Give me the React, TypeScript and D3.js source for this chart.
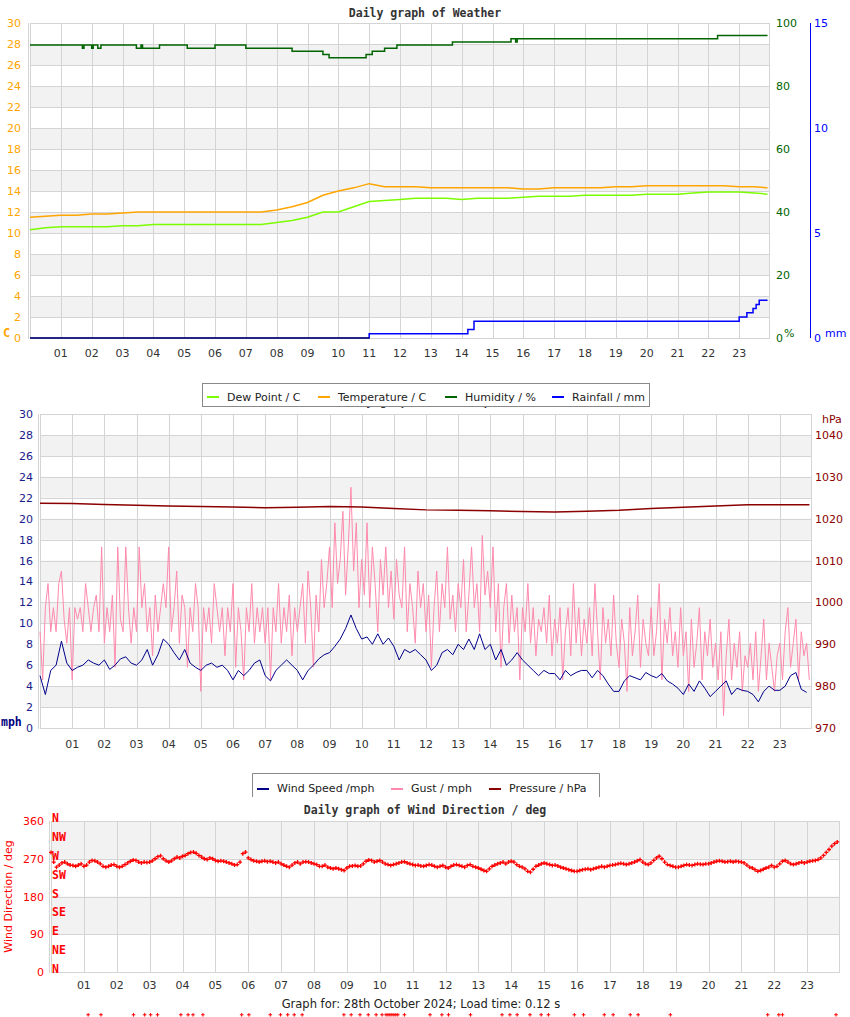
import React from 'react';
import * as d3 from 'd3';

// ---- data ----
const hourTicks = [1, 2, 3, 4, 5, 6, 7, 8, 9, 10, 11, 12, 13, 14, 15, 16, 17, 18, 19, 20, 21, 22, 23];
const hourLabels = ["01", "02", "03", "04", "05", "06", "07", "08", "09", "10", "11", "12",
  "13", "14", "15", "16", "17", "18", "19", "20", "21", "22", "23"];
const LAST_HOUR = 23.92;

// half-hourly temperature / dew point (C), last value at LAST_HOUR
const temperature = [11.5, 11.6, 11.7, 11.7, 11.8, 11.8, 11.9, 12.0, 12.0, 12.0, 12.0, 12.0, 12.0, 12.0, 12.0, 12.0,
  12.2, 12.5, 12.9, 13.6, 14.0, 14.3, 14.7, 14.4, 14.4, 14.4, 14.3, 14.3, 14.3, 14.3, 14.3, 14.3,
  14.2, 14.2, 14.3, 14.3, 14.3, 14.3, 14.4, 14.4, 14.5, 14.5, 14.5, 14.5, 14.5, 14.5, 14.4, 14.4, 14.3];
const dewPoint = [10.3, 10.5, 10.6, 10.6, 10.6, 10.6, 10.7, 10.7, 10.8, 10.8, 10.8, 10.8, 10.8, 10.8, 10.8, 10.8,
  11.0, 11.2, 11.5, 12.0, 12.0, 12.5, 13.0, 13.1, 13.2, 13.3, 13.3, 13.3, 13.2, 13.3, 13.3, 13.3,
  13.4, 13.5, 13.5, 13.5, 13.6, 13.6, 13.6, 13.6, 13.7, 13.7, 13.7, 13.8, 13.9, 13.9, 13.9, 13.8, 13.7];

// humidity (%) change points [hour, value]
const humidity: [number, number][] = [
  [0, 93], [1.7, 92], [1.75, 93], [2.0, 92], [2.05, 93], [2.2, 92], [2.3, 93], [3.45, 92], [3.6, 93], [3.65, 92],
  [4.2, 93], [5.1, 92], [6.0, 93], [7.0, 92], [8.5, 91], [9.5, 90], [9.7, 89], [10.9, 90], [11.1, 91],
  [11.5, 92], [11.9, 93], [13.7, 94], [15.6, 95], [15.75, 94], [15.8, 95], [22.3, 96]];

// rainfall (mm) change points [hour, value]
const rainfall: [number, number][] = [
  [0, 0], [11.0, 0.2], [14.2, 0.4], [14.4, 0.8], [23.0, 1.0], [23.25, 1.2], [23.45, 1.4], [23.55, 1.6], [23.65, 1.8]];

// wind speed (mph), every 10 minutes
const windSpeed = [
  5.0, 3.2, 5.5, 6.0, 8.3, 6.2, 5.5, 5.8, 6.0, 6.5, 6.2, 6.0,
  6.5, 5.6, 6.0, 6.6, 6.8, 6.2, 6.0, 6.5, 7.5, 6.0, 7.0, 8.5,
  8.0, 7.2, 6.5, 7.5, 6.2, 5.8, 5.5, 6.0, 6.2, 5.8, 6.0, 5.5,
  4.6, 5.5, 5.0, 5.5, 6.2, 6.5, 5.0, 4.5, 5.5, 6.0, 6.5, 6.0,
  5.5, 4.6, 5.5, 6.0, 6.6, 7.0, 7.2, 7.8, 8.5, 9.5, 10.8, 9.5,
  8.5, 8.7, 8.0, 9.0, 8.0, 8.6, 7.8, 6.5, 7.5, 7.2, 7.5, 7.0,
  6.5, 5.5, 6.0, 7.2, 7.5, 7.0, 8.0, 7.5, 8.5, 7.5, 9.0, 7.5,
  8.0, 6.5, 7.5, 6.0, 6.5, 7.2, 6.5, 6.0, 5.5, 5.0, 5.5, 5.2,
  5.2, 4.6, 5.5, 5.0, 5.3, 5.5, 5.5, 4.8, 5.5, 5.0, 4.2, 3.5,
  3.5, 4.5, 5.0, 4.8, 4.6, 5.3, 5.0, 4.8, 5.2, 4.5, 4.2, 3.8,
  3.2, 4.2, 3.5, 4.5, 3.8, 3.0, 3.5, 4.0, 4.5, 3.2, 3.8, 3.6,
  3.5, 3.2, 2.5, 3.5, 4.0, 3.6, 3.6, 4.0, 5.0, 5.3, 3.7, 3.4];

// gust (mph), every 5 minutes
const gust = [
  9.2, 4.6, 11.5, 13.8, 9.2, 11.5, 9.2, 13.8, 15.0, 10.4, 8.1, 11.5,
  4.6, 11.5, 10.4, 11.5, 9.2, 13.8, 11.5, 9.2, 11.5, 12.7, 9.2, 17.3,
  8.1, 11.5, 9.2, 12.7, 5.8, 17.3, 10.4, 9.2, 17.3, 11.5, 8.1, 11.5,
  9.2, 17.3, 11.5, 13.8, 9.2, 11.5, 6.9, 12.7, 9.2, 11.5, 13.8, 11.5,
  17.3, 9.2, 11.5, 15.0, 8.1, 12.7, 11.5, 5.8, 11.5, 9.2, 13.8, 11.5,
  3.5, 11.5, 9.2, 11.5, 8.1, 13.8, 11.5, 9.2, 11.5, 6.9, 11.5, 9.2,
  13.8, 5.8, 11.5, 9.2, 4.6, 11.5, 9.2, 13.8, 8.1, 11.5, 9.2, 11.5,
  8.1, 11.5, 4.6, 11.5, 9.2, 13.8, 8.1, 11.5, 9.2, 12.7, 6.9, 11.5,
  9.2, 11.5, 13.8, 8.1, 15.0, 11.5, 5.8, 12.7, 9.2, 16.1, 11.5, 13.8,
  17.3, 11.5, 19.6, 13.8, 16.1, 20.7, 12.7, 17.3, 23.0, 15.0, 19.6, 11.5,
  16.1, 12.7, 19.6, 11.5, 17.3, 13.8, 9.2, 16.1, 12.7, 17.3, 11.5, 15.0,
  10.4, 16.1, 12.7, 11.5, 17.3, 9.2, 13.8, 11.5, 8.1, 15.0, 11.5, 13.8,
  9.2, 12.7, 5.8, 11.5, 15.0, 9.2, 13.8, 11.5, 17.3, 10.4, 12.7, 9.2,
  13.8, 11.5, 16.1, 9.2, 12.7, 17.3, 11.5, 13.8, 9.2, 18.4, 12.7, 15.0,
  11.5, 17.3, 9.2, 13.8, 5.8, 11.5, 13.8, 8.1, 12.7, 9.2, 11.5, 4.6,
  11.5, 9.2, 13.8, 8.1, 11.5, 6.9, 10.4, 9.2, 11.5, 8.1, 12.7, 6.9,
  10.4, 8.1, 11.5, 4.6, 9.2, 11.5, 6.9, 13.8, 8.1, 11.5, 6.9, 10.4,
  8.1, 11.5, 6.9, 13.8, 9.2, 4.6, 11.5, 8.1, 10.4, 6.9, 12.7, 8.1,
  5.8, 10.4, 8.1, 3.5, 11.5, 6.9, 9.2, 12.7, 5.8, 10.4, 8.1, 6.9,
  11.5, 6.9, 9.2, 13.8, 4.6, 10.4, 8.1, 11.5, 6.9, 9.2, 5.8, 11.5,
  6.9, 9.2, 3.5, 10.4, 5.8, 8.1, 11.5, 4.6, 9.2, 6.9, 10.4, 5.8,
  8.1, 4.6, 9.2, 1.2, 6.9, 10.4, 4.6, 8.1, 5.8, 9.2, 3.5, 6.9,
  5.8, 8.1, 4.6, 9.2, 3.5, 6.9, 10.4, 4.6, 8.1, 5.8, 3.5, 6.9,
  8.1, 4.6, 9.2, 11.5, 5.8, 8.1, 10.4, 4.6, 9.2, 6.9, 8.1, 4.6];

// pressure (hPa), hourly, last value at LAST_HOUR
const pressure = [1023.7, 1023.6, 1023.4, 1023.2, 1023.0, 1022.9, 1022.8, 1022.6, 1022.7, 1022.9, 1022.8, 1022.4,
  1022.1, 1022.0, 1021.9, 1021.7, 1021.6, 1021.8, 1022.0, 1022.4, 1022.7, 1023.0, 1023.3, 1023.3, 1023.3];

// wind direction (deg), every 5 minutes
const windDir = [
  285, 262, 250, 255, 260, 262, 258, 255, 254, 252, 255, 258,
  252, 255, 262, 266, 265, 262, 258, 252, 250, 252, 255, 256,
  252, 250, 252, 256, 260, 264, 267, 266, 262, 260, 262, 261,
  262, 265, 270, 275, 277, 270, 265, 262, 265, 270, 274, 272,
  276, 278, 282, 285, 286, 283, 278, 274, 270, 268, 272, 270,
  266, 264, 265, 264, 262, 260, 258, 255, 256, 262, 282, 286,
  272, 268, 265, 264, 262, 264, 265, 263, 264, 262, 260, 262,
  258, 255, 252, 250, 255, 260, 262, 258, 262, 263, 262, 260,
  258, 256, 252, 252, 255, 250, 248, 246, 248, 246, 244, 242,
  248, 252, 253, 254, 252, 253, 258, 264, 267, 266, 262, 264,
  266, 262, 258, 256, 254, 256, 258, 260, 262, 263, 260, 258,
  256, 254, 255, 253, 252, 254, 256, 255, 252, 250, 252, 254,
  250, 248, 252, 255, 256, 254, 252, 250, 254, 256, 252, 250,
  248, 245, 242, 240, 246, 252, 255, 258, 260, 262, 258, 262,
  264, 262, 256, 252, 250, 246, 240, 238, 245, 252, 255, 258,
  260, 258, 256, 254, 255, 253, 250, 248, 246, 244, 242, 240,
  240, 242, 244, 245, 246, 244, 246, 248, 250, 252, 250, 252,
  254, 255, 256, 258, 259, 258, 256, 258, 260, 262, 265, 268,
  262, 258, 256, 260, 266, 272, 276, 270, 262, 256, 254, 252,
  250, 250, 252, 254, 256, 255, 254, 256, 258, 257, 256, 258,
  258, 260, 262, 264, 265, 264, 262, 263, 264, 262, 264, 263,
  262, 260, 255, 250, 248, 244, 240, 242, 245, 248, 250, 254,
  250, 252, 258, 264, 266, 262, 258, 256, 258, 260, 262, 260,
  262, 264, 265, 266, 268, 272, 278, 285, 292, 300, 306, 310];

// readings with no direction, plotted by the original below the chart
const calmHours = [1.13, 1.52, 2.51, 2.85, 3.03, 3.24, 3.95, 4.17, 4.32, 4.62, 5.8, 6.02, 6.67, 6.98, 7.2, 7.4, 7.64,
  8.91, 9.13, 9.4, 9.65, 9.89, 10.07, 10.19, 10.25, 10.31, 10.37, 10.43, 10.49, 10.55, 10.75, 11.53, 11.89, 12.09,
  12.76, 13.72, 13.96, 14.18, 14.57, 14.91, 15.13, 15.92, 16.2, 16.83, 17.1, 17.62, 17.86, 18.84, 21.8, 22.14, 22.25, 23.88];
const CALM_DIR = -102;

const compass = ["N", "NE", "E", "SE", "S", "SW", "W", "NW", "N"];

// ---- helpers ----
const sans = "'DejaVu Sans', sans-serif";
const mono = "'DejaVu Sans Mono', monospace";
const gridColor = "#d4d4d4";
const bandColor = "#f2f2f2";

type Frame = { x0: number; x1: number; y0: number; y1: number };

const PlotBack: React.FC<{ f: Frame; x: d3.ScaleLinear<number, number>; y: d3.ScaleLinear<number, number>; bands: number[]; bandW: number; lines: number[] }> =
  ({ f, x, y, bands, bandW, lines }) => (
    <g>
      <rect x={f.x0} y={f.y0} width={f.x1 - f.x0} height={f.y1 - f.y0} fill="#fff" />
      {bands.map(b => (
        <rect key={b} x={f.x0} y={y(b + bandW)} width={f.x1 - f.x0} height={y(b) - y(b + bandW)} fill={bandColor} />
      ))}
      {lines.map(v => (
        <line key={'h' + v} x1={f.x0} x2={f.x1} y1={Math.round(y(v)) + 0.5} y2={Math.round(y(v)) + 0.5} stroke={gridColor} />
      ))}
      {hourTicks.map(h => (
        <line key={'v' + h} x1={Math.round(x(h)) + 0.5} x2={Math.round(x(h)) + 0.5} y1={f.y0} y2={f.y1} stroke={gridColor} />
      ))}
      <rect x={f.x0 + 0.5} y={f.y0 + 0.5} width={f.x1 - f.x0 - 1} height={f.y1 - f.y0} fill="none" stroke={gridColor} />
      <line x1={f.x0 - 1.5} x2={f.x0 - 1.5} y1={f.y0} y2={f.y1 + 1} stroke={gridColor} />
    </g>
  );

const HourLabels: React.FC<{ x: d3.ScaleLinear<number, number>; y: number }> = ({ x, y }) => (
  <g fontFamily={sans} fontSize={11} fill="#333" textAnchor="middle">
    {hourTicks.map((h, i) => <text key={h} x={x(h)} y={y}>{hourLabels[i]}</text>)}
  </g>
);

const plusPath = (pts: [number, number][], s: number) =>
  pts.map(([px, py]) => `M${px - s},${py}h${2 * s}M${px},${py - s}v${2 * s}`).join('');

const App: React.FC = () => {
  // ---------- top: weather ----------
  const top: Frame = { x0: 30, x1: 770, y0: 23, y1: 338 };
  const xTop = d3.scaleLinear().domain([0, 24]).range([top.x0, top.x1]);
  const yTemp = d3.scaleLinear().domain([0, 30]).range([top.y1, top.y0]);
  const yHum = d3.scaleLinear().domain([0, 100]).range([top.y1, top.y0]);
  const yRain = d3.scaleLinear().domain([0, 15]).range([top.y1, top.y0]);

  const halfHours = [...d3.range(0, 24, 0.5), LAST_HOUR];
  const tempLine = d3.line<number>().x((_, i) => xTop(halfHours[i])).y(d => yTemp(d));
  const humLine = d3.line<[number, number]>().x(d => xTop(d[0])).y(d => yHum(d[1])).curve(d3.curveStepAfter);
  const rainLine = d3.line<[number, number]>().x(d => xTop(d[0])).y(d => yRain(d[1])).curve(d3.curveStepAfter);
  const humData: [number, number][] = [...humidity, [LAST_HOUR, humidity[humidity.length - 1][1]]];
  const rainData: [number, number][] = [...rainfall, [LAST_HOUR, rainfall[rainfall.length - 1][1]]];

  // ---------- middle: wind / pressure ----------
  const mid: Frame = { x0: 40, x1: 812, y0: 414, y1: 728 };
  const xMid = d3.scaleLinear().domain([0, 24]).range([mid.x0, mid.x1]);
  const yMph = d3.scaleLinear().domain([0, 30]).range([mid.y1, mid.y0]);
  const yHpa = d3.scaleLinear().domain([970, 1045]).range([mid.y1, mid.y0]);
  const windLine = d3.line<number>().x((_, i) => xMid(i / 6)).y(d => yMph(d));
  const gustLine = d3.line<number>().x((_, i) => xMid(i / 12)).y(d => yMph(d));
  const pressHours = [...d3.range(0, 24), LAST_HOUR];
  const pressLine = d3.line<number>().x((_, i) => xMid(pressHours[i])).y(d => yHpa(d));

  // ---------- bottom: wind direction ----------
  const bot: Frame = { x0: 51, x1: 840, y0: 821, y1: 972 };
  const xBot = d3.scaleLinear().domain([0, 24]).range([bot.x0, bot.x1]);
  const yDir = d3.scaleLinear().domain([0, 360]).range([bot.y1, bot.y0]);
  const dirPts: [number, number][] = windDir.map((d, i) => [xBot(i / 12), yDir(d)]);
  const calmPts: [number, number][] = calmHours.map(h => [xBot(h), yDir(CALM_DIR)]);

  const twoStep = d3.range(0, 31, 2);
  const bandsC = d3.range(2, 30, 4);

  return (
    <svg width={850} height={1017} style={{ position: 'absolute', left: 0, top: 0, background: '#fff' }}>
      <rect width={850} height={1017} fill="#fff" />

      {/* ===== Daily graph of Weather ===== */}
      <text x={425} y={17} textAnchor="middle" fontFamily={mono} fontWeight="bold" fontSize={11.5} fill="#333">Daily graph of Weather</text>
      <PlotBack f={top} x={xTop} y={yTemp} bands={bandsC} bandW={2} lines={twoStep} />

      <path d={tempLine(temperature) || ''} fill="none" stroke="#ffa500" strokeWidth={1.5} />
      <path d={tempLine(dewPoint) || ''} fill="none" stroke="#7cfc00" strokeWidth={1.5} />
      <path d={humLine(humData) || ''} fill="none" stroke="#006400" strokeWidth={1.5} />
      <path d={rainLine(rainData) || ''} fill="none" stroke="#0000ff" strokeWidth={1.5} />
      <path d={rainLine(rainData.filter(d => d[1] === 0).concat([[11.0, 0]])) || ''} fill="none" stroke="#111" strokeWidth={1.2} />

      <g fontFamily={sans} fontSize={11} fill="#ffa500" textAnchor="end">
        {twoStep.map(v => <text key={v} x={21} y={yTemp(v) + 4}>{v}</text>)}
      </g>
      <text x={3} y={337} fontFamily={mono} fontWeight="bold" fontSize={12} fill="#ffa500">C</text>
      <g fontFamily={sans} fontSize={11} fill="#006400">
        {d3.range(0, 101, 20).map(v => <text key={v} x={776} y={yHum(v) + 4}>{v}</text>)}
      </g>
      <text x={784} y={337} fontFamily={sans} fontSize={11} fill="#006400">%</text>
      <line x1={810.5} x2={810.5} y1={top.y0} y2={top.y1} stroke="#0000ff" />
      <g fontFamily={sans} fontSize={11} fill="#0000ff">
        {[0, 5, 10, 15].map(v => <text key={v} x={814} y={yRain(v) + 4}>{v}</text>)}
      </g>
      <text x={825} y={337} fontFamily={sans} fontSize={11} fill="#0000ff">mm</text>
      <HourLabels x={xTop} y={357} />

      {/* ===== wind speed / pressure ===== */}
      <text x={425} y={405} textAnchor="middle" fontFamily={mono} fontWeight="bold" fontSize={11.5} fill="#333">Daily graph of Wind Speed</text>
      <g>
        <rect x={202.5} y={383.5} width={447} height={23} fill="#fff" stroke="#888" />
        {[
          { c: "#7cfc00", t: "Dew Point / C", x: 207 },
          { c: "#ffa500", t: "Temperature / C", x: 318 },
          { c: "#006400", t: "Humidity / %", x: 445 },
          { c: "#0000ff", t: "Rainfall / mm", x: 552 },
        ].map(d => (
          <g key={d.t}>
            <line x1={d.x} x2={d.x + 12} y1={397} y2={397} stroke={d.c} strokeWidth={2} />
            <text x={d.x + 20} y={401} fontFamily={sans} fontSize={11} fill="#222">{d.t}</text>
          </g>
        ))}
      </g>

      <PlotBack f={mid} x={xMid} y={yMph} bands={bandsC} bandW={2} lines={twoStep} />
      <path d={gustLine(gust) || ''} fill="none" stroke="#ff8aad" strokeWidth={1} />
      <path d={windLine(windSpeed) || ''} fill="none" stroke="#00008b" strokeWidth={1} />
      <path d={pressLine(pressure) || ''} fill="none" stroke="#8b0000" strokeWidth={1.5} />

      <g fontFamily={sans} fontSize={11} fill="#1a1a8a" textAnchor="end">
        {twoStep.map(v => <text key={v} x={33} y={yMph(v) + 4}>{v}</text>)}
      </g>
      <text x={1} y={726} fontFamily={mono} fontWeight="bold" fontSize={11.5} fill="#000080">mph</text>
      <g fontFamily={sans} fontSize={11} fill="#8b0000">
        {d3.range(970, 1041, 10).map(v => <text key={v} x={815} y={yHpa(v) + 4}>{v}</text>)}
      </g>
      <text x={822} y={423} fontFamily={sans} fontSize={11} fill="#8b0000">hPa</text>
      <HourLabels x={xMid} y={748} />

      <g>
        <path d="M252.5,797V773.5H599.5V797" fill="none" stroke="#888" />
        {[
          { c: "#00008b", t: "Wind Speed /mph", x: 257 },
          { c: "#ff8aad", t: "Gust / mph", x: 391 },
          { c: "#8b0000", t: "Pressure / hPa", x: 489 },
        ].map(d => (
          <g key={d.t}>
            <line x1={d.x} x2={d.x + 12} y1={789} y2={789} stroke={d.c} strokeWidth={2} />
            <text x={d.x + 20} y={792} fontFamily={sans} fontSize={11} fill="#222">{d.t}</text>
          </g>
        ))}
      </g>

      {/* ===== wind direction ===== */}
      <text x={425} y={814} textAnchor="middle" fontFamily={mono} fontWeight="bold" fontSize={11.5} fill="#333">Daily graph of Wind Direction / deg</text>
      <PlotBack f={bot} x={xBot} y={yDir} bands={[90, 270]} bandW={90} lines={[0, 90, 180, 270, 360]} />
      <g fontFamily={sans} fontSize={11} fill="#ff0000" textAnchor="end">
        {[0, 90, 180, 270, 360].map(v => <text key={v} x={44} y={yDir(v) + 4}>{v}</text>)}
      </g>
      <text transform={`translate(12,${(bot.y0 + bot.y1) / 2}) rotate(-90)`} textAnchor="middle" fontFamily={sans} fontSize={11} fill="#ff0000">Wind Direction / deg</text>
      <g fontFamily={mono} fontWeight="bold" fontSize={11.5} fill="#ff0000">
        {compass.map((c, i) => <text key={i} x={52} y={yDir(i * 45) + 1}>{c}</text>)}
      </g>
      <path d={plusPath(dirPts, 2)} fill="none" stroke="#ff0000" strokeWidth={1.3} />
      <path d={plusPath(calmPts, 1.8)} fill="none" stroke="#ff0000" strokeWidth={1} />
      <HourLabels x={xBot} y={989} />

      <text x={421} y={1008} textAnchor="middle" fontFamily={sans} fontSize={11.5} fill="#222">Graph for: 28th October 2024; Load time: 0.12 s</text>
    </svg>
  );
};

export default App;
